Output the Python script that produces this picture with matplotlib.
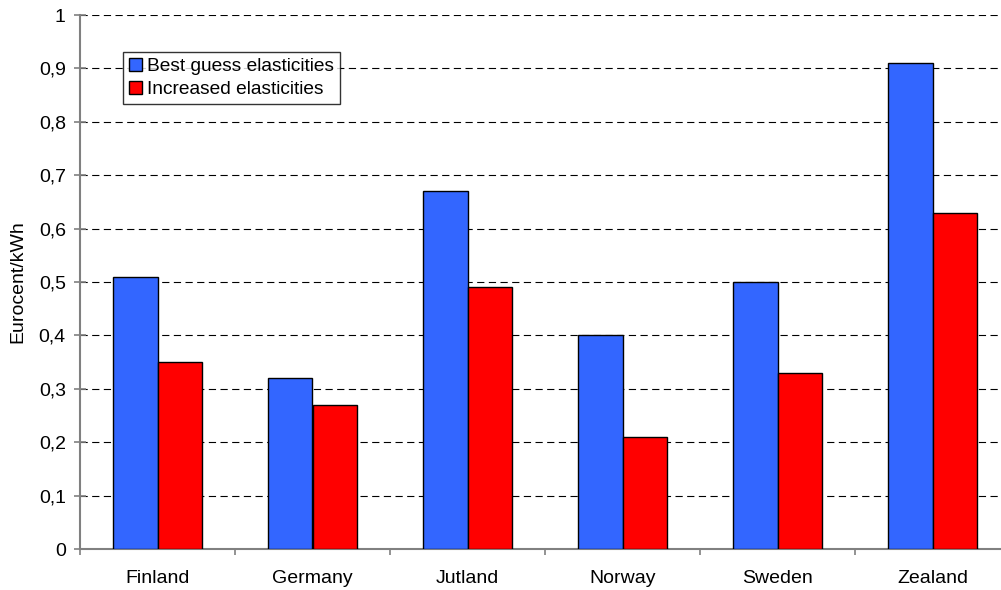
import numpy as np
import matplotlib.pyplot as plt
from matplotlib.ticker import FuncFormatter, MultipleLocator

plt.rcParams['font.family'] = ['Liberation Sans', 'DejaVu Sans']

regions = ['Finland', 'Germany', 'Jutland', 'Norway', 'Sweden', 'Zealand']
best_guess = [0.51, 0.32, 0.67, 0.40, 0.50, 0.91]
increased = [0.35, 0.27, 0.49, 0.21, 0.33, 0.63]

fig = plt.figure(figsize=(10.01, 5.9), dpi=100)
# plot area runs a little past the right edge of the canvas
ax = fig.add_axes([80 / 1001, 41 / 590, 930 / 1001, 534 / 590])

x = np.arange(len(regions)) + 0.5
w = 0.29
ax.bar(x - w / 2, best_guess, w, color='#3366FF', edgecolor='black', linewidth=1,
       label='Best guess elasticities', zorder=3)
ax.bar(x + w / 2, increased, w, color='#FF0000', edgecolor='black', linewidth=1,
       label='Increased elasticities', zorder=3)

ax.set_xlim(0, len(regions))
ax.set_ylim(0, 1)

ax.yaxis.set_major_locator(MultipleLocator(0.1))
ax.yaxis.set_major_formatter(FuncFormatter(lambda v, p: ('%.1f' % v).rstrip('0').rstrip('.').replace('.', ',')))
ax.grid(axis='y', color='black', linewidth=0.8, linestyle=(0, (6.5, 4)), zorder=1)

ax.set_xticks(x)
ax.set_xticklabels(regions)
ax.set_xticks(np.arange(len(regions) + 1), minor=True)
ax.tick_params(axis='x', which='major', length=0, pad=15, labelsize=14)
ax.tick_params(axis='x', which='minor', length=4.5, color='#808080', width=1.2)
ax.tick_params(axis='y', direction='inout', length=8.5, color='#808080', width=1.2,
               labelsize=14, pad=6)

for s in ['top', 'right']:
    ax.spines[s].set_visible(False)
for s in ['left', 'bottom']:
    ax.spines[s].set_color('#808080')
    ax.spines[s].set_linewidth(1.5)

ax.set_ylabel('Eurocent/kWh', fontsize=14)
ax.yaxis.set_label_coords(-54 / 930, 0.5)

leg = ax.legend(loc='upper left', bbox_to_anchor=(43 / 930, 497 / 534), frameon=True,
                fancybox=False, fontsize=13.8, handlelength=0.7, handleheight=0.7,
                handletextpad=0.25, borderpad=0.3, labelspacing=0.3, borderaxespad=0)
leg.get_frame().set_edgecolor('black')
leg.get_frame().set_linewidth(1)

fig.savefig('out.png', dpi=100)
